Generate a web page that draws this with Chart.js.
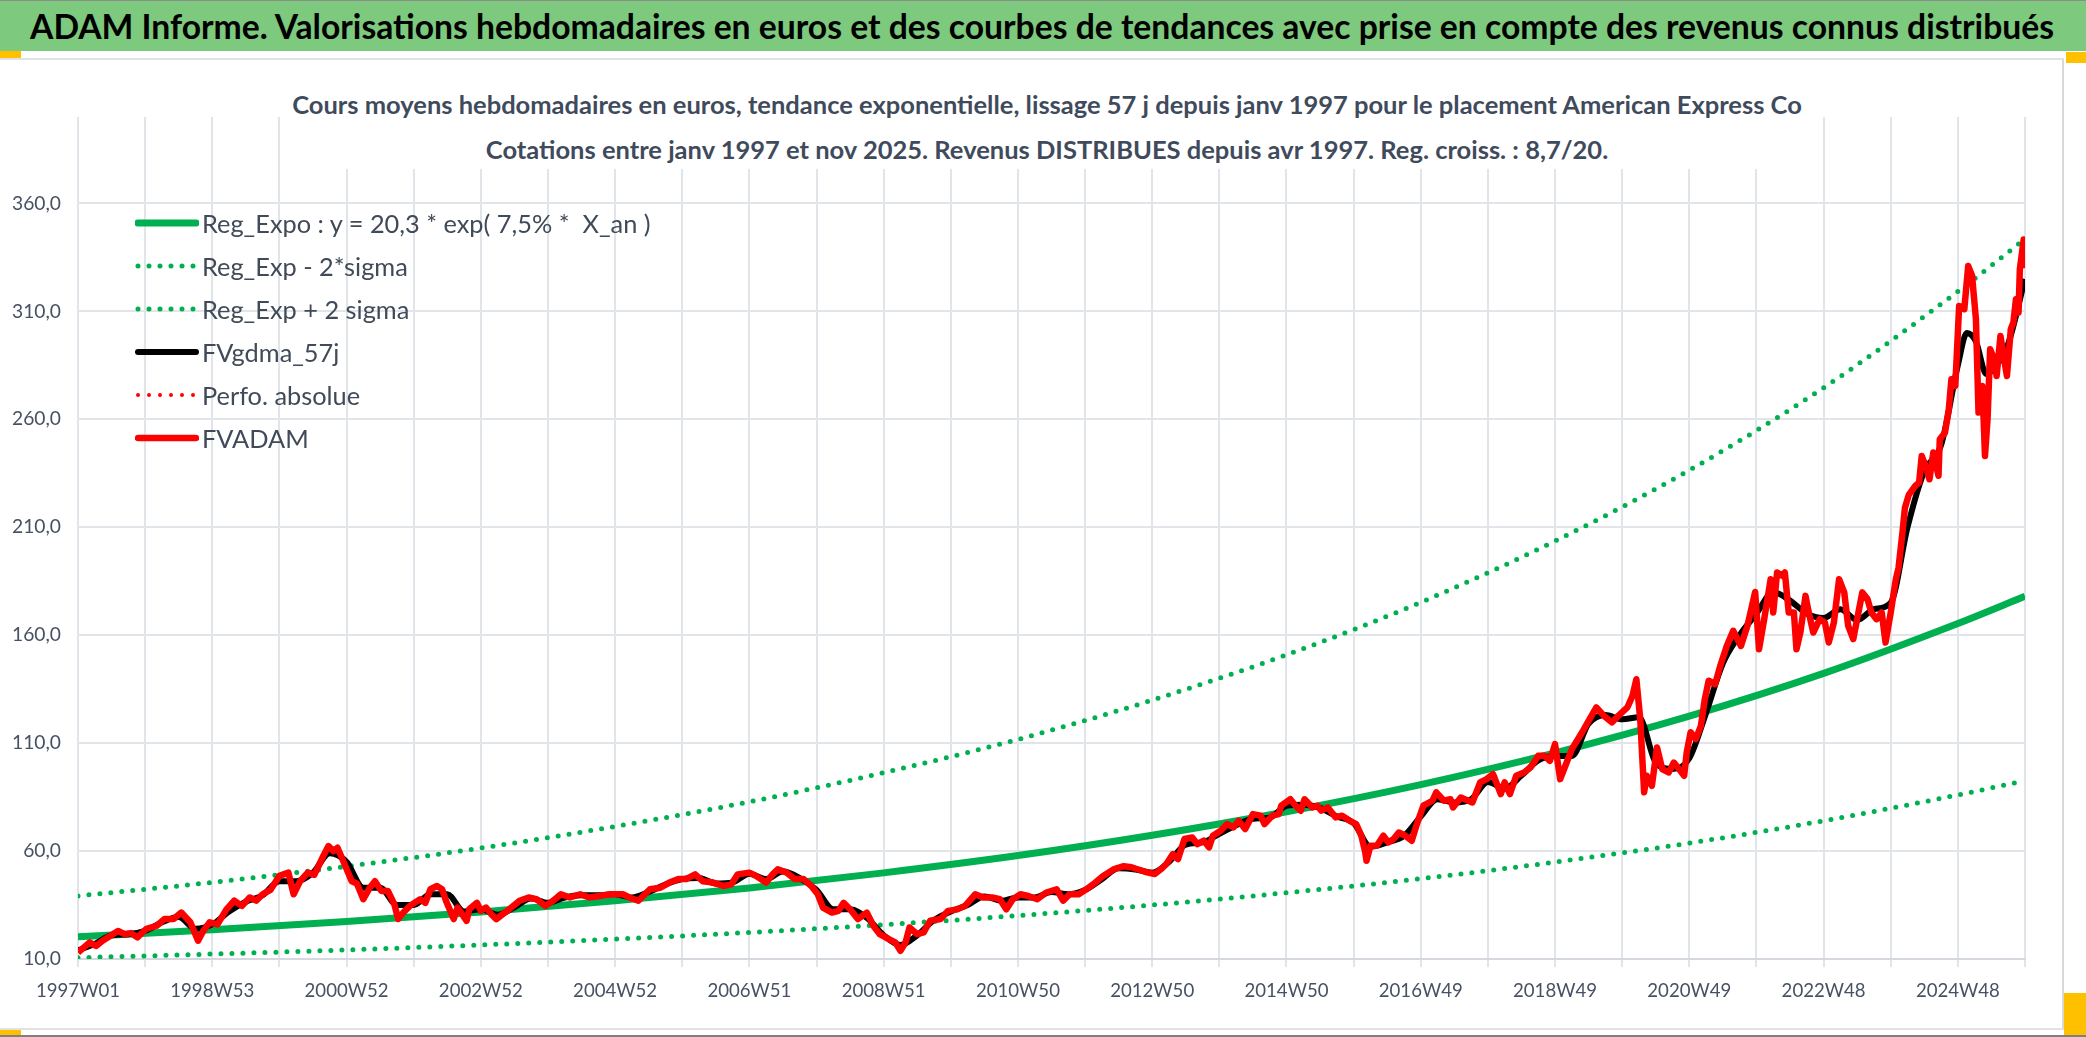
<!DOCTYPE html>
<html lang="fr">
<head>
<meta charset="utf-8">
<title>ADAM Informe - American Express Co</title>
<script src="https://cdn.jsdelivr.net/npm/chart.js@4.4.1/dist/chart.umd.min.js"></script>
<style>
  html, body { margin: 0; padding: 0; background: #fff; }
  body { width: 2086px; height: 1037px; position: relative; overflow: hidden; font-family: Lato, "Noto Sans", sans-serif; }
  #banner { position: absolute; left: 0; top: 0; width: 2086px; height: 50px; background: #7DC97D; border-top: 1px solid #8C8C8C; }
  #banner h1 { margin: 0; position: absolute; left: 30px; top: 0; line-height: 50px; font-weight: 700; color: #000; white-space: nowrap; }
  #frame { position: absolute; left: 0; top: 58px; width: 2062px; height: 968px; border-top: 2px solid #E2E2E2; border-right: 2px solid #D9D9D9; border-bottom: 2px solid #E2E2E2; }
  #chartBox { position: absolute; left: 0; top: 0; width: 2062px; height: 968px; }
  #subtitle { position: absolute; left: 285px; top: 82px; width: 1524px; height: 87px; background: #fff; text-align: center; color: #3F4B5C; font-weight: 700; }
  #subtitle div { line-height: 45px; white-space: nowrap; }
  #legend { position: absolute; left: 135px; top: 201px; color: #404A58; }
  .legend-row { display: flex; align-items: center; height: 43px; white-space: pre; }
  .legend-row svg { flex: none; margin-right: 3px; }
  .mark { position: absolute; background: #FFC000; }
  #bottomLine { position: absolute; left: 0; top: 1035px; width: 2086px; height: 2px; background: #7F7F7F; }
</style>
</head>
<body>
<div id="banner"><h1 id="bannerText">ADAM Informe. Valorisations hebdomadaires en euros et des courbes de tendances avec prise en compte des revenus connus distribués</h1></div>
<div class="mark" style="left:0;top:51px;width:21px;height:7px"></div>
<div class="mark" style="left:2066px;top:52px;width:20px;height:11px"></div>
<div class="mark" style="left:2064px;top:993px;width:22px;height:42px"></div>
<div class="mark" style="left:0;top:1030px;width:21px;height:5px"></div>

<div id="frame">
  <div id="chartBox"><canvas id="fvChart"></canvas></div>
</div>

<div id="subtitle">
  <div id="sub1">Cours moyens hebdomadaires en euros, tendance exponentielle, lissage 57 j depuis janv 1997 pour le placement American Express Co</div>
  <div id="sub2">Cotations entre janv 1997 et nov 2025. Revenus DISTRIBUES depuis avr 1997. Reg. croiss. : 8,7/20.</div>
</div>
<div id="legend"></div>
<div id="bottomLine"></div>

<script>
// ---------- Data (x = week index from 1997W01) ----------
const xTickLabels = ["1997W01", "1998W53", "2000W52", "2002W52", "2004W52", "2006W51", "2008W51", "2010W50",
  "2012W50", "2014W50", "2016W49", "2018W49", "2020W49", "2022W48", "2024W48"];
const yTickValues = [10, 60, 110, 160, 210, 260, 310, 360];

// trend curves, read at each labelled week + last week
const trendWeeks = [0, 104, 208, 312, 416, 520, 624, 728, 832, 936, 1040, 1144, 1248, 1352, 1456, 1508];
const regExpo    = [20.3, 23.6, 27.4, 31.8, 37.0, 42.9, 49.9, 57.9, 67.3, 78.2, 90.8, 105.5, 122.5, 142.3, 165.4, 178];
const regExpLow  = [10.6, 12.3, 14.2, 16.5, 19.2, 22.3, 25.9, 30.1, 35.0, 40.7, 47.2, 54.9, 63.7, 74.0, 86.0, 92.6];
const regExpHigh = [39.2, 45.5, 52.9, 61.4, 71.4, 82.8, 96.3, 111.7, 129.9, 150.9, 175.2, 203.6, 236.4, 274.6, 319.2, 343.5];

// FVADAM weekly values
const fvWeeks = [0, 9, 14, 19, 31, 36, 41, 46, 53, 61, 67, 74, 80, 87, 93, 97, 102, 108, 115, 121, 127, 133, 138, 143, 149,
  156, 163, 167, 172, 178, 183, 190, 194, 198, 201, 205, 212, 216, 221, 226, 230, 235, 240, 245, 248, 252, 257, 265, 269,
  273, 278, 282, 285, 291, 294, 301, 303, 309, 312, 316, 320, 324, 329, 334, 342, 349, 355, 362, 368, 374, 381, 389, 396,
  404, 412, 422, 427, 434, 443, 451, 458, 465, 471, 478, 484, 492, 500, 506, 511, 520, 525, 533, 538, 542, 549, 555, 562,
  568, 573, 577, 584, 589, 593, 598, 604, 611, 616, 621, 628, 633, 637, 641, 644, 650, 655, 660, 668, 674, 681, 687, 695,
  701, 708, 714, 719, 724, 730, 736, 743, 750, 758, 763, 768, 775, 781, 788, 794, 802, 810, 816, 820, 828, 834, 839, 843,
  848, 852, 857, 863, 867, 872, 876, 879, 885, 890, 895, 899, 904, 910, 916, 919, 925, 930, 932, 939, 943, 947, 950, 956,
  960, 963, 968, 974, 979, 985, 990, 994, 997, 998, 1001, 1006, 1011, 1015, 1019, 1023, 1028, 1033, 1037, 1042, 1049, 1052,
  1058, 1063, 1065, 1071, 1080, 1086, 1091, 1096, 1102, 1105, 1109, 1114, 1120, 1125, 1131, 1136, 1140, 1144, 1148, 1153,
  1157, 1161, 1165, 1170, 1176, 1182, 1188, 1193, 1200, 1204, 1207, 1210, 1213, 1215, 1219, 1223, 1227, 1232, 1236, 1240,
  1244, 1246, 1249, 1253, 1257, 1260, 1263, 1268, 1272, 1277, 1282, 1288, 1293, 1299, 1302, 1306, 1311, 1313, 1316, 1320,
  1322, 1325, 1329, 1331, 1334, 1338, 1340, 1344, 1349, 1353, 1356, 1360, 1364, 1368, 1371, 1375, 1379, 1382, 1386, 1389,
  1393, 1397, 1400, 1404, 1408, 1410, 1413, 1415, 1418, 1423, 1426, 1428, 1431, 1434, 1437, 1441, 1442, 1446, 1449, 1451,
  1454, 1457, 1461, 1464, 1467, 1470, 1472, 1475, 1477, 1479, 1481, 1484, 1486, 1489, 1491, 1494, 1497, 1499, 1501, 1503,
  1504, 1507, 1508];
const fvadam = [13, 17.7, 16, 18.5, 23, 21.5, 22, 20, 24, 25.4, 28.5, 28.5, 31.5, 27, 18.5, 23, 27, 26, 33, 37, 34.6, 38.5, 37, 40, 42,
  48.5, 50, 40, 46, 50, 49, 57.7, 62.3, 60, 61.5, 56, 46, 45, 37.7, 43, 46, 41.5, 41.5, 35.4, 28.5, 31.5, 34.6, 37.7, 36,
  42.3, 43.8, 42.3, 37, 28.5, 33.8, 27.7, 33, 36, 32.3, 33.8, 30.8, 28.5, 30.8, 33, 37, 38.5, 37.7, 34.6, 37, 40, 38.5, 40, 38.5,
  39.2, 40, 40, 38.5, 37, 42.3, 43, 45.4, 47, 47, 49.2, 46, 45.4, 43.8, 44.6, 49.2, 50, 48.5, 45.4, 49.2, 51.5, 50, 47, 47,
  43.8, 40, 33.8, 31.5, 32.3, 36, 33, 28.5, 31.5, 25.4, 21.5, 19.2, 17.7, 13.8, 17.7, 24.6, 21.5, 22.3, 27.7, 28.5, 32.3, 33, 34.6, 40,
  38.5, 38.5, 37.7, 33, 37.7, 40, 39.2, 37.7, 40.8, 42.3, 37, 40, 40, 42.3, 45.4, 48.5, 51.5, 53, 52.5, 51.7, 50.1, 49.4, 51.7, 54,
  58.6, 56.3, 65.6, 66.3, 63.2, 64.8, 61.7, 67.1, 69.4, 72.5, 71, 74, 70.2, 77.1, 76.4, 72.5, 76.4, 77.1, 81, 84, 81, 78.7, 84, 80.2,
  81, 78.7, 80.2, 75.6, 76.4, 74, 72.5, 67.1, 59.4, 55.5, 62.5, 62.5, 67.1, 64, 65.6, 68.6, 67.1, 64.8, 72.5, 81, 83.3, 87.2,
  83.3, 84, 80.2, 84.8, 82.5, 91.8, 93.3, 95.6, 86.4, 91.8, 86.4, 94.9, 96.4, 98.7, 104.1, 104.1, 101.8, 109.5, 93.3, 101,
  107.2, 111.1, 115, 120.3, 126.5, 122.6, 119.6, 122.6, 126.5, 131.9, 139.6, 121.1, 87.2, 94.9, 90.2, 108, 98, 96.4, 101, 98,
  94.9, 105.7, 115, 111.9, 118, 130.4, 138.9, 137.3, 145.8, 155, 162, 155, 164.3, 180, 153.5, 167.4, 185.9, 170.5, 189, 187.5,
  189, 170.5, 170.5, 153.5, 161.2, 178.2, 172, 161.2, 167.4, 165.9, 156.6, 165.9, 185.9, 179.8, 164.4, 158.2, 170.5, 179.8, 176.7, 170.5,
  167.4, 170.5, 156.6, 170.5, 186, 191, 207, 219, 225, 229.1, 230.7, 243, 238.4, 232.2, 244.6, 233.8, 250.7, 253.8, 264.6, 278.5,
  275.4, 312.5, 311, 331, 326.5, 306.3, 263.1, 275.4, 243, 260, 292.4, 287.8, 280, 298.6, 290.9, 280, 301.7, 304.8, 315.6, 309.4,
  329.4, 343.3, 330];

// FVgdma_57j (smoothed)
const gdmaWeeks = [0, 13, 26, 39, 52, 65, 78, 91, 104, 117, 130, 143, 156, 169, 182, 195, 208, 221, 234, 247, 260, 273, 286,
  299, 312, 325, 338, 351, 364, 377, 390, 403, 416, 429, 442, 455, 468, 481, 494, 507, 520, 533, 546, 559, 572, 585, 598,
  611, 624, 637, 650, 663, 676, 689, 702, 715, 728, 741, 754, 767, 780, 793, 806, 819, 832, 845, 858, 871, 884, 897, 910,
  923, 936, 949, 962, 975, 988, 1001, 1014, 1027, 1040, 1053, 1066, 1079, 1092, 1105, 1118, 1131, 1144, 1157, 1170, 1183,
  1196, 1209, 1222, 1235, 1248, 1261, 1274, 1287, 1300, 1313, 1326, 1339, 1352, 1365, 1378, 1391, 1404, 1417, 1430, 1443,
  1456, 1463, 1470, 1478, 1486, 1495, 1508];
const fvgdma = [14, 17, 21, 21.5, 23, 27, 29.5, 24, 26, 32, 36.5, 39.5, 46, 46, 50, 59, 55, 43, 43, 35, 35, 40, 40,
  32, 33, 30.5, 34, 38, 36, 38.5, 39.5, 39.5, 40, 38.5, 41, 44.5, 47, 47.5, 45, 45.5, 49.5, 47, 50.5, 47.5, 42, 33, 33,
  29, 21, 16.5, 21, 28, 32, 35, 39, 37, 38.5, 38.5, 41, 40, 42, 47, 52, 51.5, 50, 55, 63, 64, 68, 72, 75,
  75.5, 81, 81.5, 80, 76, 73, 62, 64, 67, 76, 84, 82.5, 84, 92, 89, 95, 102, 104, 104, 119, 123,
  121, 122, 101, 98, 103, 124, 147, 160, 170, 180, 176, 170, 168, 172, 167, 172, 175, 210, 236, 248,
  285, 300, 296, 281, 285, 295, 325];

// ---------- Fonts ----------
const FONT = 'Lato, "Noto Sans", sans-serif';
const measureCtx = document.createElement("canvas").getContext("2d");
function fitSize(text, weight, width) {
  measureCtx.font = weight + " 100px " + FONT;
  return (100 * width) / measureCtx.measureText(text).width;
}

const bannerText = document.getElementById("bannerText");
bannerText.style.fontSize = fitSize(bannerText.textContent, "bold", 2026) + "px";
const sub1 = document.getElementById("sub1");
const subSize = fitSize(sub1.textContent, "bold", 1512);
document.getElementById("subtitle").style.fontSize = subSize + "px";

const xTickSize = fitSize("1997W01", "normal", 84);
const yTickSize = fitSize("360,0", "normal", 49);

// ---------- Datasets ----------
const toPoints = (xs, ys) => xs.map((x, i) => ({ x: x, y: ys[i] }));
const GREEN = "#00B050";
const RED = "#FF0000";

const datasets = [
  { label: "Reg_Expo : y = 20,3 * exp( 7,5% *  X_an )", data: toPoints(trendWeeks, regExpo),
    borderColor: GREEN, borderWidth: 7, cubicInterpolationMode: "monotone", order: 6 },
  { label: "Reg_Exp - 2*sigma", data: toPoints(trendWeeks, regExpLow),
    borderColor: GREEN, borderWidth: 5, borderDash: [0, 11], borderCapStyle: "round", cubicInterpolationMode: "monotone", order: 5 },
  { label: "Reg_Exp + 2 sigma", data: toPoints(trendWeeks, regExpHigh),
    borderColor: GREEN, borderWidth: 5, borderDash: [0, 11], borderCapStyle: "round", cubicInterpolationMode: "monotone", order: 4 },
  { label: "FVgdma_57j", data: toPoints(gdmaWeeks, fvgdma),
    borderColor: "#000000", borderWidth: 6, cubicInterpolationMode: "monotone", borderJoinStyle: "round", order: 3 },
  { label: "Perfo. absolue", data: [],
    borderColor: RED, borderWidth: 4, borderDash: [0, 11], borderCapStyle: "round", order: 2 },
  { label: "FVADAM", data: toPoints(fvWeeks, fvadam),
    borderColor: RED, borderWidth: 6.5, borderJoinStyle: "round", order: 1 },
];

// ---------- Legend (inside plot, top-left) ----------
const legendBox = document.getElementById("legend");
legendBox.style.fontSize = fitSize(datasets[0].label, "normal", 450) + "px";
datasets.forEach(ds => {
  const row = document.createElement("div");
  row.className = "legend-row";
  const dash = ds.borderDash ? ds.borderDash.join(" ") : "none";
  row.innerHTML =
    '<svg width="64" height="14"><line x1="3" y1="7" x2="61" y2="7" stroke="' + ds.borderColor +
    '" stroke-width="' + ds.borderWidth + '" stroke-linecap="round" stroke-dasharray="' + dash + '"/></svg>';
  const span = document.createElement("span");
  span.textContent = ds.label;
  row.appendChild(span);
  legendBox.appendChild(row);
});

// ---------- Chart ----------
const GRID = "#E1E4E9";
const TEXT = "#475163";
const gridWeeks = Array.from({ length: 30 }, (_, i) => i * 52);

new Chart(document.getElementById("fvChart"), {
  type: "line",
  data: { datasets: datasets },
  options: {
    responsive: true,
    maintainAspectRatio: false,
    animation: false,
    layout: { padding: { top: 57, right: 37, bottom: 0, left: 0 } },
    elements: { point: { radius: 0 }, line: { fill: false } },
    plugins: {
      legend: { display: false },
      title: { display: false },
      tooltip: { enabled: false },
    },
    scales: {
      x: {
        type: "linear",
        min: 0,
        max: 1508,
        afterBuildTicks: axis => { axis.ticks = gridWeeks.map(v => ({ value: v })); },
        afterFit: axis => { axis.height = 69; },
        grid: { color: GRID, lineWidth: 2, tickLength: 8 },
        border: { color: "#D5D9DF", width: 2 },
        ticks: {
          autoSkip: false,
          maxRotation: 0,
          padding: 13,
          color: TEXT,
          font: { family: FONT, size: xTickSize },
          callback: v => (v % 104 === 0 ? xTickLabels[v / 104] : ""),
        },
      },
      y: {
        min: 10,
        max: 400,
        afterBuildTicks: axis => { axis.ticks = yTickValues.map(v => ({ value: v })); },
        afterFit: axis => { axis.width = 78; },
        grid: { color: GRID, lineWidth: 2, drawTicks: false },
        border: { display: false },
        ticks: {
          padding: 17,
          color: TEXT,
          font: { family: FONT, size: yTickSize },
          callback: v => v.toFixed(1).replace(".", ","),
        },
      },
    },
  },
});
</script>
</body>
</html>
